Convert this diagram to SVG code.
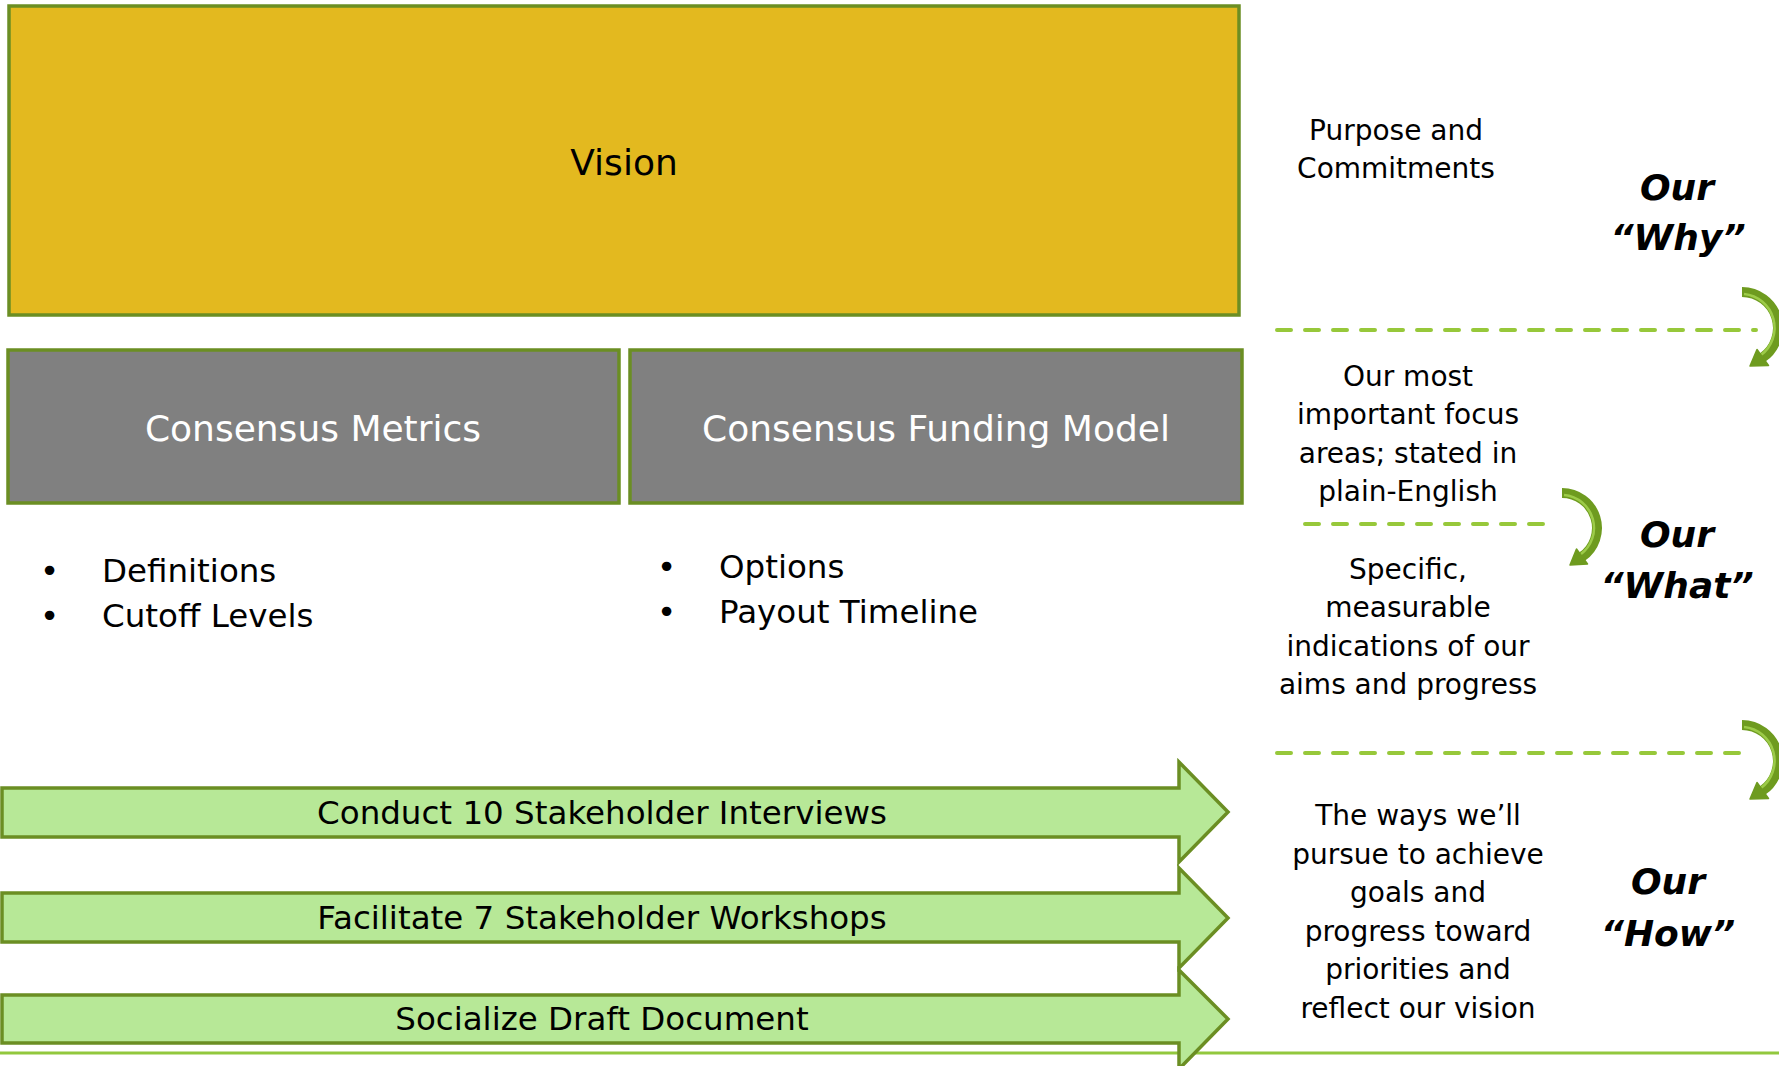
<svg xmlns="http://www.w3.org/2000/svg" width="1779" height="1066" viewBox="0 0 1779 1066">
<style>
  .box { stroke: #6B8E23; stroke-width: 3.5; }
  .vision { fill: #E3B91F; }
  .gray { fill: #808080; }
  .arrow { fill: #B7E897; stroke: #6B8E23; stroke-width: 3.5; stroke-linejoin: miter; }
  .t { font-family: "DejaVu Sans", "Liberation Sans", sans-serif; fill: #000; }
  .big { font-size: 36px; text-anchor: middle; }
  .white { fill: #FFFFFF; }
  .mid { font-size: 32.5px; }
  .side { font-size: 28px; text-anchor: middle; }
  .our { font-family: "DejaVu Sans", "Liberation Sans", sans-serif; font-size: 36px; font-weight: bold; font-style: italic; text-anchor: middle; fill: #000; }
  .dash { stroke: #97C83A; stroke-width: 4; stroke-dasharray: 14 14; stroke-linecap: round; fill: none; }
  .curve { fill: none; stroke: #6E9B1F; stroke-width: 10; }
  .curvehl { fill: none; stroke: #9CCB48; stroke-width: 2.5; }
  .head { fill: #6E9B1F; stroke: #6E9B1F; stroke-width: 1.5; stroke-linejoin: round; }
</style>
<defs>
  <g id="curveA">
    <path class="curve" d="M1742,292 A36,36 0 0 1 1762.6,357.5"/>
    <path class="curvehl" d="M1744,294 A34,34 0 0 1 1761,355"/>
    <polygon class="head" points="1750,366 1768.5,365.5 1757,349.5"/>
  </g>
</defs>
<rect width="1779" height="1066" fill="#FFFFFF"/>

<g id="vision">
  <rect class="box vision" x="9" y="6" width="1230" height="309"/>
  <text class="t big" x="624" y="175">Vision</text>
</g>

<g id="consensus-metrics">
  <rect class="box gray" x="8" y="350" width="611" height="153"/>
  <text class="t big white" x="313" y="441">Consensus Metrics</text>
</g>

<g id="consensus-funding-model">
  <rect class="box gray" x="630" y="350" width="612" height="153"/>
  <text class="t big white" x="936" y="441">Consensus Funding Model</text>
</g>

<g id="metrics-bullets">
  <text class="t mid" x="40" y="582">•</text>
  <text class="t mid" x="102" y="582">Definitions</text>
  <text class="t mid" x="40" y="627">•</text>
  <text class="t mid" x="102" y="627">Cutoff Levels</text>
</g>

<g id="funding-bullets">
  <text class="t mid" x="657" y="578">•</text>
  <text class="t mid" x="719" y="578">Options</text>
  <text class="t mid" x="657" y="623">•</text>
  <text class="t mid" x="719" y="623">Payout Timeline</text>
</g>

<g id="connectors">
  <line x1="0" y1="1053" x2="1779" y2="1053" stroke="#92C83E" stroke-width="3"/>
  <line class="dash" x1="1277" y1="330" x2="1756" y2="330"/>
  <line class="dash" x1="1305" y1="524" x2="1543" y2="524"/>
  <line class="dash" x1="1277" y1="753" x2="1745" y2="753"/>
  <use href="#curveA"/>
  <g>
    <path class="curve" d="M1562,493 A35,35 0 0 1 1582,556.7"/>
    <path class="curvehl" d="M1564,495 A33,33 0 0 1 1580.5,554.5"/>
    <polygon class="head" points="1570,565 1587.5,564 1576.5,549"/>
  </g>
  <use href="#curveA" transform="translate(0,433)"/>
</g>

<g id="interviews">
  <path class="arrow" d="M2,788 H1179 V762 L1228,812 L1179,862 V837 H2 Z"/>
  <text class="t mid" x="602" y="824" text-anchor="middle">Conduct 10 Stakeholder Interviews</text>
</g>

<g id="workshops">
  <path class="arrow" d="M2,893 H1179 V868 L1228,918 L1179,968 V942 H2 Z"/>
  <text class="t mid" x="602" y="929" text-anchor="middle">Facilitate 7 Stakeholder Workshops</text>
</g>

<g id="socialize">
  <path class="arrow" d="M2,995 H1179 V970 L1228,1019 L1179,1069 V1043 H2 Z"/>
  <text class="t mid" x="602" y="1030" text-anchor="middle">Socialize Draft Document</text>
</g>

<g id="why-text">
  <text class="t side" x="1396" y="140">Purpose and</text>
  <text class="t side" x="1396" y="178">Commitments</text>
</g>
<g id="our-why">
  <text class="our" x="1677" y="200">Our</text>
  <text class="our" x="1678" y="250">“Why”</text>
</g>

<g id="what-text-1">
  <text class="t side" x="1408" y="386">Our most</text>
  <text class="t side" x="1408" y="424">important focus</text>
  <text class="t side" x="1408" y="463">areas; stated in</text>
  <text class="t side" x="1408" y="501">plain-English</text>
</g>
<g id="what-text-2">
  <text class="t side" x="1408" y="579">Specific,</text>
  <text class="t side" x="1408" y="617">measurable</text>
  <text class="t side" x="1408" y="656">indications of our</text>
  <text class="t side" x="1408" y="694">aims and progress</text>
</g>
<g id="our-what">
  <text class="our" x="1677" y="547">Our</text>
  <text class="our" x="1677" y="598">“What”</text>
</g>

<g id="how-text">
  <text class="t side" x="1418" y="825">The ways we’ll</text>
  <text class="t side" x="1418" y="864">pursue to achieve</text>
  <text class="t side" x="1418" y="902">goals and</text>
  <text class="t side" x="1418" y="941">progress toward</text>
  <text class="t side" x="1418" y="979">priorities and</text>
  <text class="t side" x="1418" y="1018">reflect our vision</text>
</g>
<g id="our-how">
  <text class="our" x="1668" y="894">Our</text>
  <text class="our" x="1668" y="946">“How”</text>
</g>
</svg>
